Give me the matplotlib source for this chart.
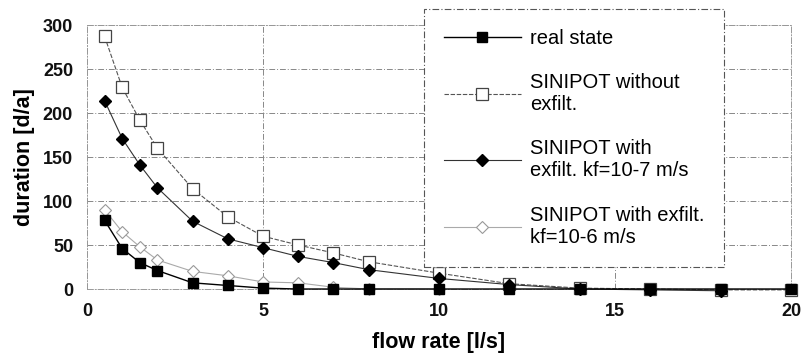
import matplotlib
matplotlib.use("Agg")
import matplotlib.pyplot as plt

plt.rcParams['font.family'] = ['Liberation Sans', 'DejaVu Sans']

x_real = [0.5, 1, 1.5, 2, 3, 4, 5, 6, 7, 8, 10, 12, 14, 16, 18, 20]
y_real = [78, 46, 30, 21, 7, 4, 1, 0, 0, 0, 0, 0, 0, 0, 0, 0]

x_noex = [0.5, 1, 1.5, 2, 3, 4, 5, 6, 7, 8, 10, 12, 14, 16, 18, 20]
y_noex = [287, 229, 192, 160, 114, 82, 60, 50, 41, 31, 18, 6, 1, 0, -1, -1]

x_k7 = [0.5, 1, 1.5, 2, 3, 4, 5, 6, 7, 8, 10, 12, 14, 16, 18]
y_k7 = [214, 171, 141, 115, 77, 57, 47, 37, 30, 22, 12, 5, 0, -1, -2]

x_k6 = [0.5, 1, 1.5, 2, 3, 4, 5, 6, 7, 8, 10]
y_k6 = [90, 65, 48, 33, 20, 15, 8, 7, 2, 0, 0]

labels = ["real state", "SINIPOT without\nexfilt.", "SINIPOT with\nexfilt. kf=10-7 m/s",
          "SINIPOT with exfilt.\nkf=10-6 m/s"]
xticks = [0, 5, 10, 15, 20]
yticks = [0, 50, 100, 150, 200, 250, 300]

fig = plt.figure(figsize=(8.01, 3.6), dpi=100)
ax = fig.add_axes([87/801, 1-289/360, (791-87)/801, (289-25)/360])

ax.plot(x_real, y_real, '-', color='black', lw=1.0, marker='s', ms=7,
        mfc='black', mec='black', label=labels[0], clip_on=False, zorder=5)
ax.plot(x_noex, y_noex, '--', color='#555555', lw=0.8, dashes=(4, 1.5), marker='s', ms=8,
        mfc='white', mec='#444444', mew=0.9, label=labels[1], clip_on=False, zorder=4)
ax.plot(x_k7, y_k7, '-', color='#333333', lw=0.8, marker='D', ms=6,
        mfc='black', mec='black', label=labels[2], clip_on=False, zorder=4)
ax.plot(x_k6, y_k6, '-', color='#aaaaaa', lw=0.8, marker='D', ms=6,
        mfc='white', mec='#999999', mew=0.8, label=labels[3], clip_on=False, zorder=3)

ax.set_xlim(0, 20)
ax.set_ylim(0, 300)
ax.set_xticks(xticks)
ax.set_yticks(yticks)
ax.tick_params(length=0, labelsize=13, pad=10)
for t in ax.get_xticklabels() + ax.get_yticklabels():
    t.set_fontweight('bold')
    t.set_color('#111111')
ax.grid(True, color='#888888', lw=0.7, ls=(0, (6, 2, 1, 2)))
for s in ax.spines.values():
    s.set_color('#999999')
    s.set_linewidth(0.7)
    s.set_linestyle((0, (6, 2, 1, 2)))

ax.set_xlabel('flow rate [l/s]', fontsize=15.5, fontweight='bold', labelpad=9)
ax.set_ylabel('duration [d/a]', fontsize=15.5, fontweight='bold', labelpad=6)

leg = ax.legend(loc='upper left', bbox_to_anchor=((424-87)/704, (289-9)/264),
                fontsize=14.5, handlelength=3.8, labelspacing=1.25, borderpad=1.0,
                handletextpad=0.45, borderaxespad=0, frameon=True, fancybox=False,
                framealpha=1, edgecolor='#555555')
leg.get_frame().set_linewidth(0.8)
leg.get_frame().set_linestyle((0, (6, 2, 1, 2)))

fig.savefig('out.png', dpi=100)
